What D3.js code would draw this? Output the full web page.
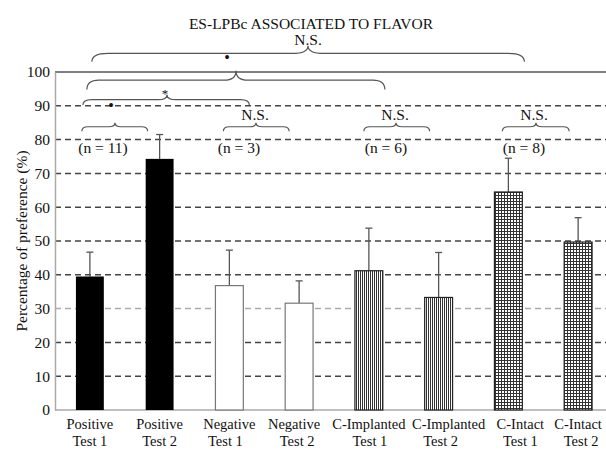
<!DOCTYPE html>
<html>
<head>
<meta charset="utf-8">
<script src="https://cdn.jsdelivr.net/npm/d3@7/dist/d3.min.js"></script>
<style>
  html, body { margin: 0; padding: 0; background: #fff; }
  svg { display: block; font-family: "Liberation Serif", "Times New Roman", serif; }
</style>
</head>
<body>
<svg id="chart" width="606" height="450"></svg>
<script>
// Groups and tests
const groups = ["Positive", "Positive", "Negative", "Negative", "C-Implanted", "C-Implanted", "C-Intact", "C-Intact"];
const tests = ["Test 1", "Test 2", "Test 1", "Test 2", "Test 1", "Test 2", "Test 1", "Test 2"];
// Mean percentage of preference and upper error (mean + SEM)
const means = [39.5, 74.3, 36.8, 31.6, 41.2, 33.3, 64.5, 49.7];
const errs  = [7.2, 7.2, 10.5, 6.6, 12.6, 13.3, 10.0, 7.2];
const styles = ["solid", "solid", "open", "open", "stripes", "stripes", "grid", "grid"];
const yTicks = [0, 10, 20, 30, 40, 50, 60, 70, 80, 90, 100];

const svg = d3.select("#chart");
const W = 606, H = 450;
const plotLeft = 55, plotBottom = 410, plotTop = 72;

const x = d3.scaleBand().domain(d3.range(groups.length)).range([plotLeft, 613]).paddingInner(0.6).paddingOuter(0.3);
const y = d3.scaleLinear().domain([0, 100]).range([plotBottom, plotTop]);
const cx = i => x(i) + x.bandwidth() / 2;

// Fill patterns
const defs = svg.append("defs");
const stripes = defs.append("pattern").attr("id", "stripes").attr("patternUnits", "userSpaceOnUse")
  .attr("width", 2).attr("height", 4);
stripes.append("rect").attr("width", 2).attr("height", 4).attr("fill", "#fff");
stripes.append("rect").attr("x", 0).attr("width", 1).attr("height", 4).attr("fill", "#333");

const grid = defs.append("pattern").attr("id", "grid").attr("patternUnits", "userSpaceOnUse")
  .attr("width", 3).attr("height", 3);
grid.append("rect").attr("width", 3).attr("height", 3).attr("fill", "#fff");
grid.append("rect").attr("x", 0).attr("width", 1).attr("height", 3).attr("fill", "#333");
grid.append("rect").attr("y", 0).attr("width", 3).attr("height", 1).attr("fill", "#333");

// Horizontal grid lines
svg.append("g").selectAll("line").data(yTicks.filter(d => d > 0)).join("line")
  .attr("x1", plotLeft).attr("x2", W)
  .attr("y1", d => y(d)).attr("y2", d => y(d))
  .attr("stroke", d => d === 100 ? "#555" : (d === 30 ? "#aaa" : "#444"))
  .attr("stroke-width", 1.5)
  .attr("stroke-dasharray", d => d === 100 ? null : "6,4");

// Y axis
const yAxis = svg.append("g").attr("transform", `translate(${plotLeft},0)`)
  .call(d3.axisLeft(y).tickValues(yTicks).tickSize(0).tickPadding(5));
yAxis.attr("font-family", null);
yAxis.select(".domain").attr("stroke", "#aaa").attr("stroke-width", 1.5);
yAxis.selectAll("text").attr("font-size", 15.5).attr("fill", "#111");

// X axis baseline
svg.append("line").attr("x1", plotLeft).attr("x2", W).attr("y1", plotBottom).attr("y2", plotBottom)
  .attr("stroke", "#aaa").attr("stroke-width", 1.5);

// Error bars (upper only)
const eb = svg.append("g").selectAll("g").data(means).join("g");
eb.append("line")
  .attr("x1", (d, i) => cx(i)).attr("x2", (d, i) => cx(i))
  .attr("y1", d => y(d)).attr("y2", (d, i) => y(d + errs[i]))
  .attr("stroke", "#555").attr("stroke-width", 1.3);
eb.append("line")
  .attr("x1", (d, i) => cx(i) - 3.5).attr("x2", (d, i) => cx(i) + 3.5)
  .attr("y1", (d, i) => y(d + errs[i])).attr("y2", (d, i) => y(d + errs[i]))
  .attr("stroke", "#555").attr("stroke-width", 1.3);

// Bars
svg.append("g").selectAll("rect").data(means).join("rect")
  .attr("x", (d, i) => x(i)).attr("width", x.bandwidth())
  .attr("y", d => y(d)).attr("height", d => plotBottom - y(d))
  .attr("fill", (d, i) => styles[i] === "solid" ? "#000" : styles[i] === "open" ? "#fff" : `url(#${styles[i]})`)
  .attr("stroke", (d, i) => styles[i] === "open" ? "#777" : "#222")
  .attr("stroke-width", (d, i) => styles[i] === "solid" ? 0 : 1.2);

// Category labels (two lines; horizontal nudges per line keep wide labels apart)
const labelNudge = [[0, 0], [0, 0], [0, -4], [-5, -2], [0, 1], [10, 2], [12, 12], [0, 3]];
const xl = svg.append("g").selectAll("text").data(groups).join("text")
  .attr("text-anchor", "middle").attr("font-size", 14.5).attr("fill", "#111");
xl.append("tspan").attr("x", (d, i) => cx(i) + labelNudge[i][0]).attr("y", 429).text(d => d);
xl.append("tspan").attr("x", (d, i) => cx(i) + labelNudge[i][1]).attr("y", 446).text((d, i) => tests[i]);

// Y axis title
svg.append("text")
  .attr("transform", `translate(21,${(plotTop + plotBottom) / 2}) rotate(-90)`)
  .attr("text-anchor", "middle").attr("dominant-baseline", "central")
  .attr("font-size", 15.5).attr("fill", "#111")
  .text("Percentage of preference (%)");

// Comparison braces
function bracePath(x0, x1, xt, yEnd, yMid, yTip, r) {
  return `M${x0},${yEnd} Q${x0},${yMid} ${x0 + r},${yMid} L${xt - r},${yMid} Q${xt},${yMid} ${xt},${yTip}` +
         ` Q${xt},${yMid} ${xt + r},${yMid} L${x1 - r},${yMid} Q${x1},${yMid} ${x1},${yEnd}`;
}
const braces = [
  { x0: cx(0) + 2, x1: cx(6) + 16, xt: 308, e: 103, m: 105.5, t: 107.8, r: 16 },
  { x0: cx(0) - 3, x1: cx(4) + 16, xt: 236, e: 94.8, m: 97.6, t: 100.4, r: 12 },
  { x0: cx(0) - 7, x1: cx(2) + 20, xt: 167, e: 90.2, m: 91.8, t: 93.3, r: 9 },
  { x0: cx(0) - 8, x1: cx(1) - 12, xt: 115, e: 82.5, m: 83.8, t: 85.0, r: 6 },
  { x0: cx(2) - 6, x1: cx(3) - 10, xt: 256, e: 82.5, m: 83.8, t: 85.0, r: 6 },
  { x0: cx(4) - 5, x1: cx(5) - 9, xt: 396, e: 82.5, m: 83.8, t: 85.0, r: 6 },
  { x0: cx(6) - 6, x1: cx(7) - 9, xt: 536, e: 82.5, m: 83.8, t: 85.0, r: 6 }
];
svg.append("g").selectAll("path").data(braces).join("path")
  .attr("d", b => bracePath(b.x0, b.x1, b.xt, y(b.e), y(b.m), y(b.t), b.r))
  .attr("fill", "none").attr("stroke", "#555").attr("stroke-width", 1.2);

// Annotation text
const notes = [
  { text: "ES-LPBc ASSOCIATED TO FLAVOR", px: 311, v: 114.4, size: 15.5 },
  { text: "N.S.", px: 308, v: 109.6, size: 15.5 },
  { text: "•", px: 227, v: 104.3, size: 16 },
  { text: "*", px: 165, v: 93.6, size: 13 },
  { text: "•", px: 111, v: 90.2, size: 16 },
  { text: "N.S.", px: 255, v: 87.4, size: 15.5 },
  { text: "N.S.", px: 395, v: 87.4, size: 15.5 },
  { text: "N.S.", px: 534, v: 87.4, size: 15.5 },
  { text: "(n = 11)", px: 103, v: 77.8, size: 15.5 },
  { text: "(n = 3)", px: 239, v: 77.8, size: 15.5 },
  { text: "(n = 6)", px: 386, v: 77.8, size: 15.5 },
  { text: "(n = 8)", px: 524, v: 77.8, size: 15.5 }
];
svg.append("g").selectAll("text").data(notes).join("text")
  .attr("x", d => d.px).attr("y", d => y(d.v))
  .attr("text-anchor", "middle").attr("dominant-baseline", "central")
  .attr("font-size", d => d.size).attr("fill", "#111")
  .text(d => d.text);
</script>
</body>
</html>
